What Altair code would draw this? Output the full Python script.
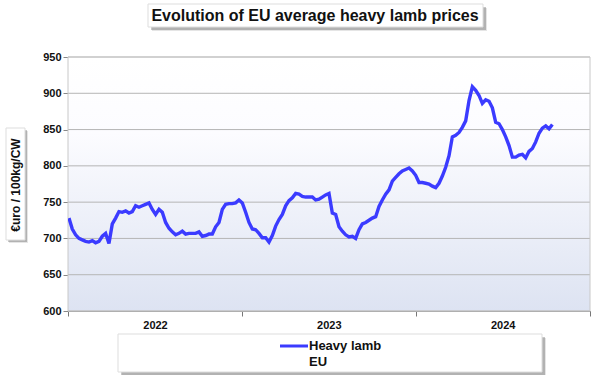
import altair as alt
import pandas as pd

# ---- data ----
chart_title = "Evolution of EU average heavy lamb prices"
y_title = "€uro  / 100kg/CW"
series_name = "Heavy lamb"
series_region = "EU"
start_date = "2022-01-03"
prices = [
    728, 713, 705, 700, 698, 696, 695, 697, 694, 696,
    703, 707, 693, 720, 728, 737, 736, 738, 735, 737,
    745, 743, 745, 747, 749, 740, 733, 740, 736, 722,
    714, 709, 705, 707, 710, 706, 707, 707, 707, 709,
    703, 704, 706, 706, 716, 722, 740, 747, 748, 748,
    749, 753, 749, 736, 722, 713, 712, 707, 701, 701,
    695, 704, 717, 726, 733, 745, 752, 756, 762, 761,
    758, 757, 757, 757, 753, 754, 757, 760, 762, 735,
    733, 716, 710, 705, 702, 703, 700, 712, 720, 722,
    725, 728, 730, 744, 753, 761, 767, 779, 784, 789,
    793, 795, 797, 793, 787, 777, 777, 776, 775, 772,
    770, 776, 786, 798, 814, 840, 842, 846, 853, 862,
    890, 909, 904, 897, 886, 891, 889, 880, 860, 858,
    850, 840, 828, 812, 812, 815, 816, 811, 820, 824,
    833, 845, 852, 855, 851, 857,
]
y_ticks = [600, 650, 700, 750, 800, 850, 900, 950]
year_starts = [2022, 2023, 2024, 2025]

df = pd.DataFrame({
    "date": pd.date_range(start_date, periods=len(prices), freq="7D"),
    "price": prices,
})
grid_df = pd.DataFrame({"v": y_ticks})

W, H = 522, 254
FONT = "Liberation Sans"
BLUE = "#3b3bff"

one = pd.DataFrame({"k": [0]})
yscale = alt.Scale(domain=[600, 950])

x_axis = alt.Axis(
    title=None,
    values=[alt.DateTime(year=y, month=1, date=1) for y in year_starts],
    labelExpr="year(datum.value) > 2024 ? '' : timeFormat(datum.value, '%Y')",
    labelOffset=87, labelFlush=False, labelOverlap=False, labelBound=False,
    labelFont=FONT, labelFontSize=11, labelFontWeight="bold", labelColor="#111",
    labelPadding=3, tickSize=5, tickColor="#777", domainColor="#777",
    grid=False,
)
y_axis = alt.Axis(
    title=None, values=y_ticks,
    labelFont=FONT, labelFontSize=11, labelFontWeight="bold", labelColor="#111",
    labelPadding=2, tickSize=5, tickColor="#888", domainColor="#999",
    grid=False,
)

bg = alt.Chart(one).mark_rect(
    fill=alt.Gradient(
        gradient="linear", x1=0, x2=0, y1=0, y2=1,
        stops=[alt.GradientStop(offset=0, color="#ffffff"),
               alt.GradientStop(offset=0.3, color="#fcfcff"),
               alt.GradientStop(offset=1, color="#dde3f2")])
).encode(x=alt.value(0), x2=alt.value(W), y=alt.value(0), y2=alt.value(H))

border = alt.Chart(one).mark_rect(fillOpacity=0, stroke="#c8c8c8", strokeWidth=1).encode(
    x=alt.value(0), x2=alt.value(W), y=alt.value(0), y2=alt.value(H))

grid = alt.Chart(grid_df).mark_rule(color="#b5b5b5", strokeWidth=1).encode(
    y=alt.Y("v:Q", scale=yscale, axis=y_axis),
    x=alt.value(0), x2=alt.value(W),
)

line = alt.Chart(df).mark_line(color=BLUE, strokeWidth=3.4, clip=True).encode(
    x=alt.X("date:T", axis=x_axis,
            scale=alt.Scale(domain=[alt.DateTime(year=2022, month=1, date=1),
                                    alt.DateTime(year=2025, month=1, date=1)])),
    y=alt.Y("price:Q", axis=y_axis, scale=yscale),
)

def box(x1, y1, x2, y2, shadow=3):
    return [
        alt.Chart(one).mark_rect(fill="#000", opacity=0.10).encode(
            x=alt.value(x1 + shadow + 1), x2=alt.value(x2 + shadow + 1),
            y=alt.value(y1 + shadow + 1), y2=alt.value(y2 + shadow + 1)),
        alt.Chart(one).mark_rect(fill="#000", opacity=0.22).encode(
            x=alt.value(x1 + shadow), x2=alt.value(x2 + shadow),
            y=alt.value(y1 + shadow), y2=alt.value(y2 + shadow)),
        alt.Chart(one).mark_rect(fill="white", stroke="#dddddd", strokeWidth=1).encode(
            x=alt.value(x1), x2=alt.value(x2), y=alt.value(y1), y2=alt.value(y2)),
    ]

def label(text, x, y, size, align="center", angle=0):
    return alt.Chart(pd.DataFrame({"t": [text]})).mark_text(
        font=FONT, fontSize=size, fontWeight="bold", color="#111",
        align=align, baseline="middle", angle=angle).encode(
        text="t:N", x=alt.value(x), y=alt.value(y))

title_box = box(80, -53, 415, -30)
title_text = label(chart_title, 247, -41, 16)

ytitle_box = box(-62, 71, -43, 183, shadow=2)
ytitle_text = label(y_title, -52, 128, 12, angle=270)

legend_box = box(50, 277, 474, 315, shadow=3)
legend_line = alt.Chart(one).mark_rule(color=BLUE, strokeWidth=3).encode(
    x=alt.value(212), x2=alt.value(240), y=alt.value(289))
legend_t1 = label(series_name, 241, 289, 13, align="left")
legend_t2 = label(series_region, 241, 305, 13, align="left")

chart = alt.layer(
    bg, grid, border, line,
    *title_box, title_text,
    *ytitle_box, ytitle_text,
    *legend_box, legend_line, legend_t1, legend_t2,
).properties(
    width=W, height=H,
    autosize=alt.AutoSizeParams(type="none"),
    padding={"left": 68, "top": 57, "right": 10, "bottom": 64},
    background="white",
).configure_view(stroke=None)

chart.save("out.html", embed_options={"renderer": "svg", "actions": False})
